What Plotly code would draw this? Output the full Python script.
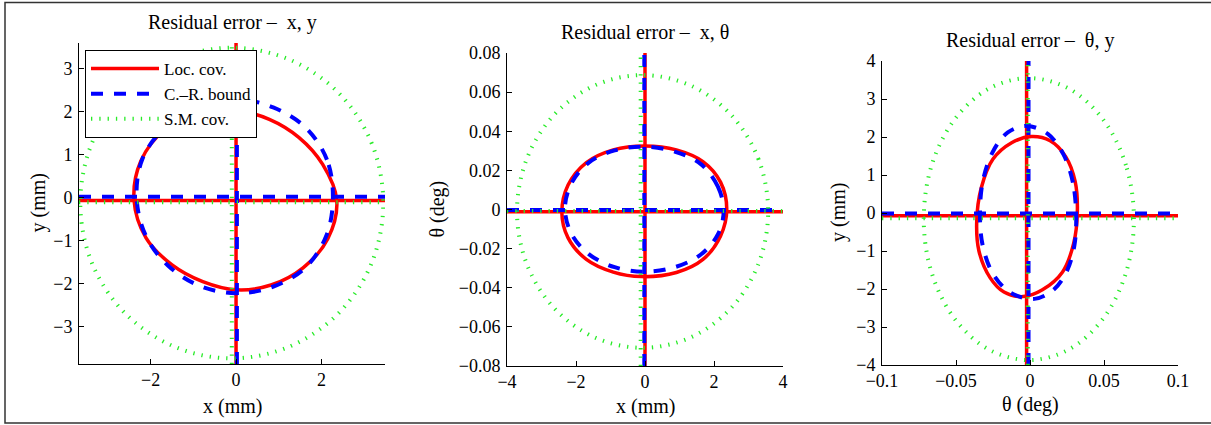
import plotly.graph_objects as go

W, H = 1211, 425
FONT = "Liberation Serif"

# ---------------- data ----------------
# Panel 1: residual error x, y  (mm)
xy_xlim = [-3.68, 3.49]
xy_ylim = [-3.88, 3.60]
xy_loc_x = [2.36, 2.03, 1.47, 0.78, 0.00, -0.85, -1.66, -2.23, -2.39, -2.11, -1.50, -0.78,
            0.00, 0.82, 1.57, 2.15, 2.36]
xy_loc_y = [-0.07, 0.77, 1.40, 1.82, 2.03, 1.98, 1.59, 0.85, -0.07, -0.94, -1.57, -1.96,
            -2.15, -2.04, -1.64, -0.96, -0.07]
xy_crb_x = [2.27, 2.13, 1.63, 0.87, 0.00, -0.88, -1.65, -2.19, -2.33, -2.12, -1.59, -0.85,
            0.00, 0.86, 1.63, 2.12, 2.27]
xy_crb_y = [0.00, 0.88, 1.63, 2.10, 2.29, 2.12, 1.65, 0.91, 0.00, -0.88, -1.59, -2.06,
            -2.23, -2.08, -1.63, -0.88, 0.00]
xy_sm_x = [3.45, 3.18, 2.41, 1.26, -0.10, -1.46, -2.61, -3.38, -3.65, -3.38, -2.61, -1.46,
           -0.10, 1.26, 2.41, 3.18, 3.45]
xy_sm_y = [-0.13, 1.26, 2.43, 3.21, 3.49, 3.21, 2.43, 1.26, -0.13, -1.52, -2.69, -3.47,
           -3.75, -3.47, -2.69, -1.52, -0.13]
xy_loc_center = [0.00, -0.07]
xy_crb_center = [0.02, 0.02]
xy_sm_center = [-0.10, -0.11]

# Panel 2: residual error x (mm), theta (deg)
xth_xlim = [-4, 4]
xth_ylim = [-0.08, 0.08]
xth_loc_x = [2.37, 2.19, 1.68, 0.91, 0.00, -0.92, -1.70, -2.23, -2.41, -2.23, -1.70, -0.92,
             -0.10, 0.91, 1.68, 2.19, 2.37]
xth_loc_y = [0.0000, 0.0140, 0.0245, 0.0305, 0.0325, 0.0305, 0.0240, 0.0125, -0.0015, -0.0145,
             -0.0255, -0.0320, -0.0343, -0.0322, -0.0255, -0.0135, 0.0000]
xth_crb_x = [2.28, 2.11, 1.62, 0.88, -0.03, -0.88, -1.63, -2.13, -2.32, -2.13, -1.63, -0.88,
             0.03, 0.88, 1.62, 2.12, 2.28]
xth_crb_y = [-0.0005, 0.0118, 0.0232, 0.0295, 0.0321, 0.0302, 0.0240, 0.0135, 0.0005, -0.0125,
             -0.0228, -0.0295, -0.0318, -0.0294, -0.0230, -0.0125, -0.0005]
xth_sm_x = [3.57, 3.29, 2.50, 1.32, -0.07, -1.46, -2.64, -3.43, -3.71, -3.43, -2.64, -1.46,
            -0.07, 1.32, 2.50, 3.29, 3.57]
xth_sm_y = [-0.0010, 0.0257, 0.0483, 0.0634, 0.0687, 0.0634, 0.0483, 0.0257, -0.0010, -0.0277,
            -0.0503, -0.0654, -0.0707, -0.0654, -0.0503, -0.0277, -0.0010]
xth_loc_center = [0.00, -0.0011]
xth_crb_center = [-0.02, -0.0003]
xth_sm_center = [-0.125, -0.0008]

# Panel 3: residual error theta (deg), y (mm)
thy_xlim = [-0.1, 0.1]
thy_ylim = [-4, 4]
thy_loc_x = [0.0320, 0.0305, 0.0240, 0.0136, 0.0008, -0.0124, -0.0250, -0.0330, -0.0360,
             -0.0345, -0.0270, -0.0176, -0.0048, 0.0084, 0.0220, 0.0295, 0.0320]
thy_loc_y = [0.04, 0.83, 1.49, 1.90, 2.01, 1.85, 1.42, 0.65, -0.22, -1.00, -1.70, -2.08,
             -2.20, -2.02, -1.55, -0.80, 0.04]
thy_crb_x = [0.0312, 0.0290, 0.0225, 0.0120, -0.0020, -0.0150, -0.0250, -0.0318, -0.0338,
             -0.0320, -0.0250, -0.0130, 0.0030, 0.0160, 0.0250, 0.0300, 0.0312]
thy_crb_y = [-0.10, 0.80, 1.55, 2.08, 2.29, 2.12, 1.62, 0.85, 0.00, -0.85, -1.60, -2.10,
             -2.26, -2.02, -1.52, -0.85, -0.10]
thy_sm_x = [0.0702, 0.0648, 0.0494, 0.0264, -0.0008, -0.0280, -0.0510, -0.0664, -0.0718,
            -0.0664, -0.0510, -0.0280, -0.0008, 0.0264, 0.0494, 0.0648, 0.0702]
thy_sm_y = [-0.16, 1.26, 2.46, 3.27, 3.55, 3.27, 2.46, 1.26, -0.16, -1.58, -2.78, -3.59,
            -3.87, -3.59, -2.78, -1.58, -0.16]
thy_loc_center = [-0.0023, -0.07]
thy_crb_center = [-0.0010, -0.01]
thy_sm_center = [-0.0015, -0.14]

series_names = ["Loc. cov.", "C.\u2013R. bound", "S.M. cov."]
titles = ["Residual error \u2013\u00a0 x, y", "Residual error \u2013\u00a0 x, \u03b8",
          "Residual error \u2013\u00a0 \u03b8, y"]
xlabels = ["x (mm)", "x (mm)", "\u03b8 (deg)"]
ylabels = ["y (mm)", "\u03b8 (deg)", "y (mm)"]

# ---------------- styles / layout ----------------
styles = [
    dict(color="rgb(255,0,0)", width=3.5, dash="solid"),
    dict(color="rgb(0,0,255)", width=4, dash="12px,11px"),
    dict(color="rgb(40,235,40)", width=4, dash="1.3px,7px"),
]
# axes boxes in pixels: (left, right, top, bottom)
boxes = [(79, 385, 43, 364), (507, 783, 53, 366), (882, 1178, 61, 365)]
title_y = [23, 32, 40]
xlabel_y = [406, 406, 404]
ylabel_x = [38, 437, 838]

panels = [
    (xy_xlim, xy_ylim,
     [(xy_loc_x, xy_loc_y, xy_loc_center), (xy_crb_x, xy_crb_y, xy_crb_center),
      (xy_sm_x, xy_sm_y, xy_sm_center)], 2, 1),
    (xth_xlim, xth_ylim,
     [(xth_loc_x, xth_loc_y, xth_loc_center), (xth_crb_x, xth_crb_y, xth_crb_center),
      (xth_sm_x, xth_sm_y, xth_sm_center)], 2, 0.02),
    (thy_xlim, thy_ylim,
     [(thy_loc_x, thy_loc_y, thy_loc_center), (thy_crb_x, thy_crb_y, thy_crb_center),
      (thy_sm_x, thy_sm_y, thy_sm_center)], 0.05, 1),
]

fig = go.Figure()
annotations = []
for p, (xlim, ylim, sers, dx, dy) in enumerate(panels):
    xa = "x" if p == 0 else f"x{p+1}"
    ya = "y" if p == 0 else f"y{p+1}"
    for s, (cx, cy, cen) in enumerate(sers):
        xs = list(cx) + [None, xlim[0], xlim[1], None, cen[0], cen[0]]
        ys = list(cy) + [None, cen[1], cen[1], None, ylim[0], ylim[1]]
        fig.add_trace(go.Scatter(
            x=xs, y=ys, mode="lines", name=series_names[s],
            showlegend=(p == 0),
            line=dict(color=styles[s]["color"], width=styles[s]["width"],
                      dash=styles[s]["dash"], shape="spline", smoothing=1.0),
            xaxis=xa, yaxis=ya, cliponaxis=True, hoverinfo="skip"))
    l, r, t, b = boxes[p]
    axcommon = dict(showline=True, linecolor="black", linewidth=1, ticks="inside",
                    ticklen=5, tickcolor="black", tickwidth=1, showgrid=False,
                    zeroline=False, mirror=False, automargin=False,
                    tickfont=dict(family=FONT, size=18, color="black"))
    key = "" if p == 0 else str(p + 1)
    fig.update_layout(**{
        f"xaxis{key}": dict(axcommon, domain=[l / W, r / W], range=xlim, dtick=dx,
                            tick0=0, anchor=ya, ticklabelstandoff=-1),
        f"yaxis{key}": dict(axcommon, domain=[1 - b / H, 1 - t / H], range=ylim, dtick=dy,
                            tick0=0, anchor=xa, ticklabelstandoff=2),
    })
    annotations.append(dict(text=titles[p], x=(l + r) / 2 / W, y=1 - title_y[p] / H,
                            xref="paper", yref="paper", showarrow=False,
                            xanchor="center", yanchor="middle",
                            font=dict(family=FONT, size=20, color="black")))
    annotations.append(dict(text=xlabels[p], x=(l + r) / 2 / W, y=1 - xlabel_y[p] / H,
                            xref="paper", yref="paper", showarrow=False,
                            xanchor="center", yanchor="middle",
                            font=dict(family=FONT, size=20, color="black")))
    annotations.append(dict(text=ylabels[p], x=ylabel_x[p] / W, y=1 - (t + b) / 2 / H,
                            xref="paper", yref="paper", showarrow=False, textangle=-90,
                            xanchor="center", yanchor="middle",
                            font=dict(family=FONT, size=20, color="black")))

fig.update_layout(
    template="none",
    width=W, height=H, autosize=False,
    margin=dict(l=0, r=0, t=0, b=0, pad=0, autoexpand=False),
    paper_bgcolor="white", plot_bgcolor="white",
    annotations=annotations,
    showlegend=True,
    legend=dict(x=85 / W, y=1 - 50 / H, xanchor="left", yanchor="top",
                bgcolor="white", bordercolor="black", borderwidth=1,
                font=dict(family=FONT, size=17, color="black"),
                itemwidth=68, tracegroupgap=0),
    shapes=[dict(type="rect", xref="paper", yref="paper", x0=5 / W, x1=1215 / W,
                 y0=1 - 423 / H, y1=1 - 2.5 / H, line=dict(color="#333333", width=1.5),
                 layer="below")],
)

fig.write_html("out.html")
